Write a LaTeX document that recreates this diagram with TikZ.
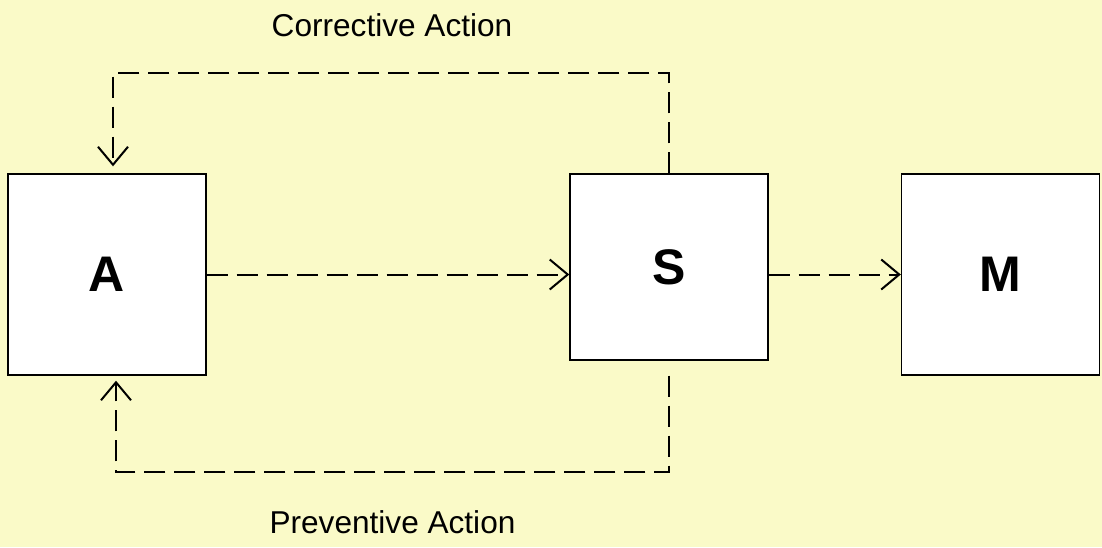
\documentclass[tikz,border=0pt]{standalone}
\usepackage{fontspec}
\setmainfont{Liberation Sans}
\usetikzlibrary{arrows.meta}
\definecolor{bgyellow}{RGB}{250,250,200}
\tikzset{
  block/.style={draw, line width=0.7pt, fill=white, minimum width=99pt,
    inner sep=0pt, font=\fontsize{25}{30}\selectfont\bfseries},
  flow/.style={line width=1pt, dash pattern=on 10.5pt off 4.5pt,
    -{Straight Barb[length=9pt,width=15pt,line width=1pt]}},
  caption/.style={font=\fontsize{15.8}{19}\selectfont}
}
\begin{document}
\begin{tikzpicture}[x=0.5pt, y=-0.5pt]
            % Background and page size
            \useasboundingbox (0,0) rectangle (1102,547);
            \fill [bgyellow] (0,0) rectangle (1102,547);

            % The three boxes
            \foreach \n/\x/\y/\h in {A/107/274.5/100.5, S/669/267/93, M/1000.5/274.5/100.5} {
              \node [block, minimum height=\h pt] (\n) at (\x,\y) {\n};
            }

            % Forward flow
            \draw [flow] (A.east) -- (A.east -| S.west);
            \draw [flow] (S.east |- M.west) -- (M.west);

            % Feedback loops above and below
            \coordinate (ca) at (113,73);
            \coordinate (pa) at (116,472);
            \draw [flow, shorten >=3.5pt] (S.north) |- (ca) -- (ca |- A.north);
            \draw [flow, shorten <=7.5pt, shorten >=2.5pt] (S.south) |- (pa) -- (pa |- A.south);

            % Loop labels
            \node [caption] (corr) at (392,25) {Corrective Action};
            \node [caption] (prev) at (392.5,522) {Preventive Action};
        \end{tikzpicture}
\end{document}
